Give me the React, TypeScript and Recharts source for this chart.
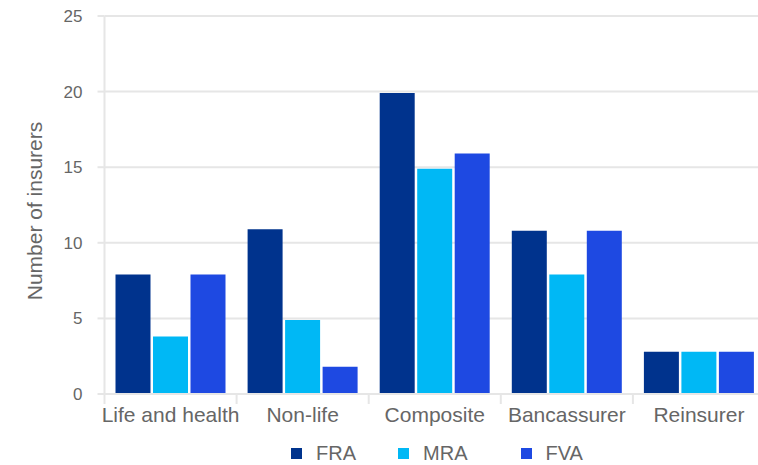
import React from 'react';
import { BarChart, Bar, XAxis, YAxis, CartesianGrid, Legend } from 'recharts';

const categories = ['Life and health', 'Non-life', 'Composite', 'Bancassurer', 'Reinsurer'];
const seriesNames = ['FRA', 'MRA', 'FVA'];
const fraValues = [7.9, 10.9, 19.9, 10.8, 2.8];
const mraValues = [3.8, 4.9, 14.9, 7.9, 2.8];
const fvaValues = [7.9, 1.8, 15.9, 10.8, 2.8];
const yTicks = [0, 5, 10, 15, 20, 25];
const yLabel = 'Number of insurers';

const data = categories.map((c, i) => ({
  category: c,
  FRA: fraValues[i],
  MRA: mraValues[i],
  FVA: fvaValues[i],
}));

const FONT = '"Liberation Sans", Arial, sans-serif';
const TEXT = '#666666';
const GRID = '#e6e6e6';
const COLORS: Record<string, string> = { FRA: '#00338D', MRA: '#00B8F5', FVA: '#1E49E2' };
const legendGaps = [42, 53, 0];

const XTick = (props: any) => {
  const { x, y, payload } = props;
  const off = payload && payload.offset ? payload.offset : 0;
  return (
    <g>
      <line x1={x - off} x2={x - off} y1={y - 13} y2={y - 3} stroke={GRID} strokeWidth={2} />
      <text x={x} y={y} dy="0.71em" textAnchor="middle" fill={TEXT} fontSize={21} fontFamily={FONT}>
        {payload.value}
      </text>
    </g>
  );
};

const YLabel = (props: any) => {
  const vb = props.viewBox || { x: 0, y: 0, width: 0, height: 0 };
  const cx = 41.5;
  const cy = vb.y + vb.height / 2 + 6;
  return (
    <text
      x={cx}
      y={cy}
      textAnchor="middle"
      transform={`rotate(-90, ${cx}, ${cy})`}
      fill={TEXT}
      fontSize={21}
      fontFamily={FONT}
    >
      {yLabel}
    </text>
  );
};

const renderLegend = (props: any) => {
  const items = [...(props.payload || [])].sort(
    (a: any, b: any) => seriesNames.indexOf(a.value) - seriesNames.indexOf(b.value)
  );
  return (
    <div
      style={{
        display: 'flex',
        justifyContent: 'center',
        alignItems: 'center',
        height: 18,
        lineHeight: '18px',
        fontFamily: FONT,
        fontSize: 20,
        color: TEXT,
      }}
    >
      {items.map((e: any, i: number) => (
        <div key={e.value} style={{ display: 'flex', alignItems: 'center', marginRight: legendGaps[i] }}>
          <span style={{ display: 'inline-block', width: 11, height: 11, background: e.color, marginRight: 14 }} />
          <span>{e.value}</span>
        </div>
      ))}
    </div>
  );
};

export default function App() {
  return (
    <div style={{ position: 'absolute', left: 0, top: 0, width: 758, height: 465, overflow: 'hidden', background: '#fff' }}>
      <BarChart
        width={770}
        height={465}
        data={data}
        margin={{ top: 16, right: 5, bottom: 0, left: 1.5 }}
        barGap={2.5}
      >
        <CartesianGrid vertical={false} stroke={GRID} strokeWidth={2} />
        <XAxis
          dataKey="category"
          height={53}
          axisLine={{ stroke: GRID, strokeWidth: 2 }}
          tickLine={{ stroke: 'none' }}
          tickSize={10}
          tickMargin={3}
          tick={<XTick />}
          interval={0}
        />
        <YAxis
          width={103}
          domain={[0, 25]}
          ticks={yTicks}
          axisLine={{ stroke: GRID, strokeWidth: 2 }}
          tickLine={{ stroke: GRID, strokeWidth: 2 }}
          tickSize={7}
          tickMargin={15}
          tick={{ fill: TEXT, fontSize: 17, fontFamily: FONT }}
          label={<YLabel />}
        />
        <Legend
          verticalAlign="bottom"
          height={18}
          itemSorter={null as any}
          wrapperStyle={{ top: 444, left: 107, width: 660, height: 18 }}
          content={renderLegend}
        />
        {seriesNames.map((s) => (
          <Bar key={s} dataKey={s} name={s} fill={COLORS[s]} barSize={35} isAnimationActive={false} />
        ))}
      </BarChart>
    </div>
  );
}
